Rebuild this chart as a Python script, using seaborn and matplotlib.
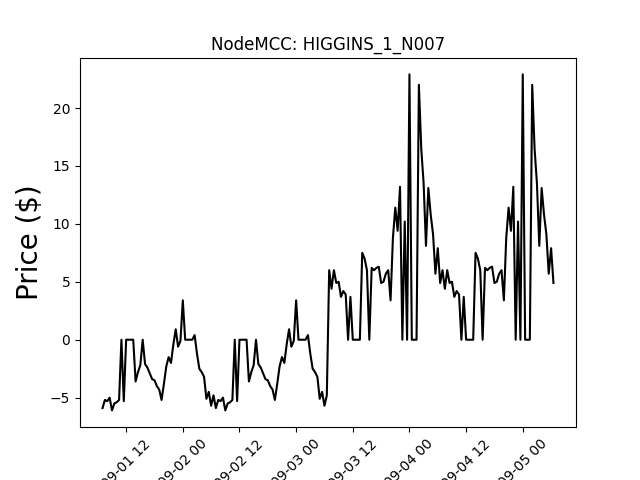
import numpy as np
import pandas as pd
import matplotlib
matplotlib.use("Agg")
import matplotlib.pyplot as plt
import seaborn as sns

## DATA (30 min prices; days 1-2 and 3-4 repeat)

start_time = "2020-09-01 07:00"
step = "30min"

day_a = [-5.9, -5.2, -5.3, -5.0, -6.1, -5.5, -5.4, -5.2, 0, -5.3, 0, 0,
         0, 0, -3.6, -2.8, -2.2, 0, -2.1, -2.4, -2.9, -3.4, -3.5, -4.0,
         -4.3, -5.2, -3.8, -2.3, -1.5, -2.0, -0.4, 0.9, -0.6, -0.1, 3.4, 0,
         0, 0, 0, 0.4, -1.2, -2.5, -2.8, -3.2, -5.1, -4.5, -5.7, -4.8]

day_b = [6.0, 4.4, 6.0, 4.9, 5.0, 3.7, 4.2, 3.9, 0, 3.7, 0, 0,
         0, 0, 7.5, 7.0, 6.0, 0, 6.2, 6.0, 6.2, 6.3, 4.9, 5.0,
         5.7, 6.0, 3.4, 8.8, 11.4, 9.4, 13.2, 0, 10.2, 0, 22.9, 0,
         0, 0, 22.0, 16.5, 13.5, 8.1, 13.1, 10.8, 9.1, 5.7, 7.9, 4.9]

price = day_a + day_a + day_b + day_b

df = pd.DataFrame({
    "Time": pd.date_range(start_time, periods=len(price), freq=step),
    "Price": price,
})

## PLOT

fig, ax = plt.subplots(figsize=(6.4, 4.8), dpi=100)
sns.lineplot(data=df, x="Time", y="Price", color="black", linewidth=1.5, ax=ax)

ax.set_title("NodeMCC: HIGGINS_1_N007")
ax.set_xlabel("")
ax.set_ylabel("Price ($)", fontsize=20)
plt.xticks(rotation=45)

fig.savefig("out.png", dpi=100)
